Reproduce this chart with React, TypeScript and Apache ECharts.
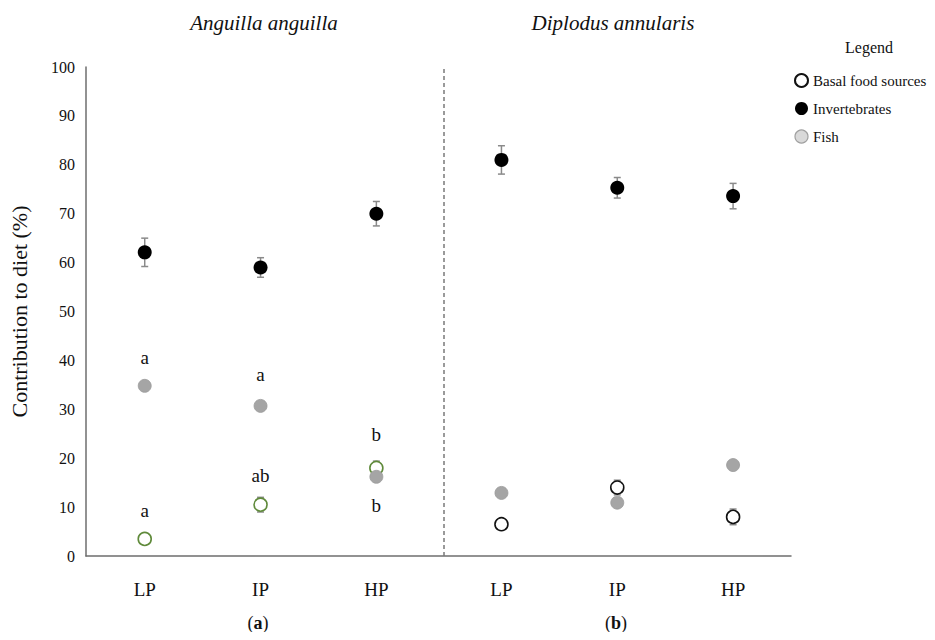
import React, { useEffect, useRef } from "react";
import * as echarts from "echarts";

const categories = ["LP", "IP", "HP"];
const xPositions = [1, 2, 3, 4.08, 5.08, 6.08];
const dividerX = 3.58;
const speciesTitles = ["Anguilla anguilla", "Diplodus annularis"];
const panelTags = ["a", "b"];

const basal = [3.5, 10.5, 18.0, 6.5, 14.0, 8.0];
const basalErr = [0.4, 1.5, 1.4, 0.4, 1.5, 1.6];
const invert = [62.1, 59.0, 70.0, 81.0, 75.3, 73.6];
const invertErr = [2.9, 2.0, 2.5, 2.9, 2.1, 2.6];
const fish = [34.8, 30.7, 16.2, 12.9, 10.9, 18.6];

const basalLetters = ["a", "ab", "b", "", "", ""];
const fishLetters = ["a", "a", "b", "", "", ""];

const FONT = "'Liberation Serif', 'Times New Roman', serif";

export default function App() {
  const ref = useRef<HTMLDivElement>(null);
  useEffect(() => {
    if (!ref.current) return;
    const chart = echarts.init(ref.current, undefined, { renderer: "svg" });

    const errData: number[][] = [];
    xPositions.forEach((x, i) => {
      errData.push([x, invert[i] - invertErr[i], invert[i] + invertErr[i]]);
      errData.push([x, basal[i] - basalErr[i], basal[i] + basalErr[i]]);
    });

    const letterLabel = (txt: string, pos: string, dist: number) => ({
      show: txt !== "",
      formatter: txt,
      position: pos,
      distance: dist,
      color: "#111",
      fontSize: 19,
      fontFamily: FONT,
    });

    const basalData = xPositions.map((x, i) => ({
      value: [x, basal[i]],
      itemStyle: i < 3 ? { borderColor: "#5f8a3a" } : undefined,
      label: letterLabel(basalLetters[i], "top", i === 2 ? 17 : 12),
    }));
    const fishData = xPositions.map((x, i) => ({
      value: [x, fish[i]],
      label: letterLabel(fishLetters[i], i === 2 ? "bottom" : "top", i === 1 ? 15 : 12),
    }));
    const invData = xPositions.map((x, i) => [x, invert[i]]);

    const panelTag = (x: number, tag: string) => ({
      type: "text",
      x,
      y: 623,
      style: {
        text: `({b|${tag}})`,
        font: `18px ${FONT}`,
        fill: "#111",
        align: "center",
        verticalAlign: "middle",
        rich: { b: { fontWeight: "bold", fontSize: 18, fontFamily: FONT, fill: "#111" } },
      },
    });

    const option: any = {
      animation: false,
      backgroundColor: "#fff",
      grid: { left: 83, right: 144, top: 67, bottom: 84, containLabel: false },
      xAxis: {
        type: "value",
        min: 0.493,
        max: 6.58,
        axisLine: { show: true, lineStyle: { color: "#6e6e6e", width: 1.5 } },
        axisTick: { show: false },
        splitLine: { show: false },
        axisLabel: {
          customValues: xPositions,
          margin: 24,
          color: "#111",
          fontSize: 19,
          fontFamily: FONT,
          formatter: (v: number) => {
            const i = xPositions.findIndex((p) => Math.abs(p - v) < 1e-6);
            return i >= 0 ? categories[i % 3] : "";
          },
        },
      },
      yAxis: {
        type: "value",
        min: 0,
        max: 100,
        interval: 10,
        name: "Contribution to diet (%)",
        nameLocation: "middle",
        nameGap: 56,
        nameRotate: 90,
        nameTextStyle: { fontSize: 22, fontFamily: FONT, color: "#111" },
        axisLine: { show: true, lineStyle: { color: "#6e6e6e", width: 1.5 } },
        axisTick: { show: false },
        splitLine: { show: false },
        axisLabel: { margin: 11, fontSize: 16, fontFamily: FONT, color: "#111" },
      },
      legend: {
        orient: "vertical",
        left: 789,
        top: 68,
        itemWidth: 13,
        itemHeight: 13,
        itemGap: 13,
        icon: "circle",
        textStyle: { fontSize: 15, fontFamily: FONT, color: "#111" },
        data: [
          { name: "Basal food sources" },
          { name: "Invertebrates" },
          { name: "Fish", itemStyle: { color: "#d9d9d9", borderColor: "#a0a0a0", borderWidth: 1.2 } },
        ],
      },
      graphic: [
        {
          type: "text",
          x: 264,
          y: 23,
          style: { text: speciesTitles[0], font: `italic 21px ${FONT}`, fill: "#111", align: "center", verticalAlign: "middle" },
        },
        {
          type: "text",
          x: 613,
          y: 23,
          style: { text: speciesTitles[1], font: `italic 21px ${FONT}`, fill: "#111", align: "center", verticalAlign: "middle" },
        },
        {
          type: "text",
          x: 869,
          y: 47,
          style: { text: "Legend", font: `16px ${FONT}`, fill: "#111", align: "center", verticalAlign: "middle" },
        },
        panelTag(258, panelTags[0]),
        panelTag(616, panelTags[1]),
      ],
      series: [
        {
          type: "custom",
          name: "err",
          z: 1,
          silent: true,
          data: errData,
          renderItem: (params: any, api: any) => {
            const x = api.value(0);
            const lo = api.coord([x, api.value(1)]);
            const hi = api.coord([x, api.value(2)]);
            const w = 3.5;
            const st = { stroke: "#8a8a8a", lineWidth: 1.5 };
            return {
              type: "group",
              children: [
                { type: "line", shape: { x1: lo[0], y1: lo[1], x2: hi[0], y2: hi[1] }, style: st },
                { type: "line", shape: { x1: lo[0] - w, y1: lo[1], x2: lo[0] + w, y2: lo[1] }, style: st },
                { type: "line", shape: { x1: hi[0] - w, y1: hi[1], x2: hi[0] + w, y2: hi[1] }, style: st },
              ],
            };
          },
          markLine: {
            silent: true,
            symbol: "none",
            label: { show: false },
            lineStyle: { color: "#7a7a7a", type: [4, 3], width: 1.5 },
            data: [{ xAxis: dividerX }],
          },
        },
        {
          type: "scatter",
          name: "Basal food sources",
          z: 3,
          symbol: "circle",
          symbolSize: 13,
          itemStyle: { color: "#ffffff", borderColor: "#111", borderWidth: 1.6, opacity: 1 },
          data: basalData,
        },
        {
          type: "scatter",
          name: "Invertebrates",
          z: 3,
          symbol: "circle",
          symbolSize: 14,
          itemStyle: { color: "#000000", opacity: 1 },
          data: invData,
        },
        {
          type: "scatter",
          name: "Fish",
          z: 4,
          symbol: "circle",
          symbolSize: 13,
          itemStyle: { color: "#a5a5a5", borderColor: "#9a9a9a", borderWidth: 0.8, opacity: 1 },
          data: fishData,
        },
      ],
    };
    chart.setOption(option);
    return () => chart.dispose();
  }, []);
  return <div ref={ref} style={{ width: 935, height: 640, margin: -8 }} />;
}
